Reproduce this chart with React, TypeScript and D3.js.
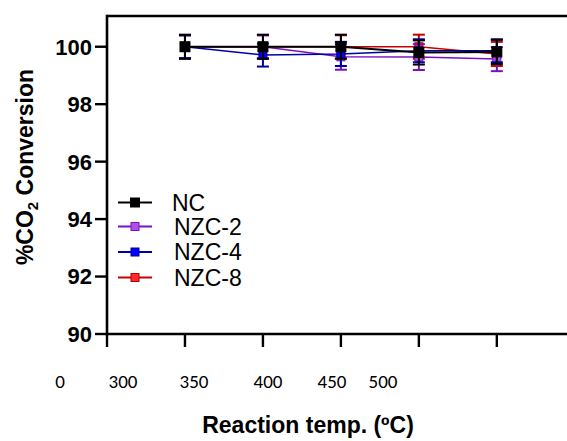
import React from "react";
import * as d3 from "d3";

const temps = [300, 350, 400, 450, 500];
const ncValues = [100, 100, 100, 99.8, 99.82];
const ncErr = [0.42, 0.42, 0.42, 0.42, 0.42];
const nzc2Values = [100, 100, 99.65, 99.64, 99.57];
const nzc2Err = [0.4, 0.4, 0.45, 0.45, 0.42];
const nzc4Values = [100, 99.71, 99.75, 99.86, 99.86];
const nzc4Err = [0.4, 0.4, 0.42, 0.4, 0.4];
const nzc8Values = [100, 100, 100, 100, 99.75];
const nzc8Err = [0.4, 0.4, 0.4, 0.42, 0.42];
const yTicks = [90, 92, 94, 96, 98, 100];
const xTicks = [250, 300, 350, 400, 450, 500];
const xTickLabels = ["0", "300", "350", "400", "450", "500"];
const xLabelOffsets = [60, 123, 194, 268, 332, 383];

const series = [
  { name: "NZC-8", values: nzc8Values, err: nzc8Err, line: "#c80000", fill: "#ff2a2a", stroke: "#b00000", size: 8 },
  { name: "NZC-2", values: nzc2Values, err: nzc2Err, line: "#7a10c0", fill: "#b050e8", stroke: "#7a10c0", size: 8 },
  { name: "NZC-4", values: nzc4Values, err: nzc4Err, line: "#0000a8", fill: "#0000ff", stroke: "#000090", size: 8 },
  { name: "NC", values: ncValues, err: ncErr, line: "#000000", fill: "#000000", stroke: "#000000", size: 10 },
];
const legendOrder = ["NC", "NZC-2", "NZC-4", "NZC-8"];

export default function App() {
  const W = 567, H = 441;
  const x = d3.scaleLinear().domain([250, 545]).range([107, 567]);
  const y = d3.scaleLinear().domain([90, 101.07]).range([334, 16]);
  const line = d3.line<number>().x((_, i) => x(temps[i])).y((v) => y(v));
  const arial = "'Liberation Sans', Arial, sans-serif";
  const legendY = [202.5, 226.5, 252, 277.5];
  return (
    <svg width={W} height={H} style={{ position: "absolute", left: 0, top: 0, background: "#fff" }}>
      {/* frame */}
      <line x1={107} x2={567} y1={16} y2={16} stroke="#000" strokeWidth={2.6} />
      <line x1={107} x2={107} y1={14.7} y2={y(90) + 1.3} stroke="#000" strokeWidth={2.6} />
      <line x1={105.7} x2={567} y1={y(90)} y2={y(90)} stroke="#000" strokeWidth={2.6} />
      {yTicks.map((t) => (
        <g key={t}>
          <line x1={95} x2={107} y1={y(t)} y2={y(t)} stroke="#000" strokeWidth={2.4} />
          <text x={92} y={y(t)} dy="0.36em" textAnchor="end" fontFamily={arial} fontWeight="bold" fontSize={22}>{t}</text>
        </g>
      ))}
      {xTicks.map((t) => (
        <line key={t} x1={x(t)} x2={x(t)} y1={y(90)} y2={y(90) + 13} stroke="#000" strokeWidth={2.4} />
      ))}
      {xTickLabels.map((l, i) => (
        <text key={l} x={xLabelOffsets[i]} y={388} textAnchor="middle" fontFamily="Carlito, Lato, sans-serif" fontSize={19}>{l}</text>
      ))}
      <text x={308} y={433} textAnchor="middle" fontFamily={arial} fontWeight="bold" fontSize={23}>Reaction temp. (ºC)</text>
      <text transform="translate(33,167) rotate(-90)" textAnchor="middle" fontFamily={arial} fontWeight="bold" fontSize={23}>
        %CO<tspan fontSize={15} dy={5}>2</tspan><tspan dy={-5}> Conversion</tspan>
      </text>
      {/* data */}
      {series.map((s) => (
        <g key={s.name}>
          <path d={line(s.values) || ""} fill="none" stroke={s.line} strokeWidth={s.name === "NC" ? 2 : 1.5} />
          {s.values.map((v, i) => (
            <g key={i}>
              <line x1={x(temps[i])} x2={x(temps[i])} y1={y(v - s.err[i])} y2={y(v + s.err[i])} stroke={s.line} strokeWidth={2} />
              <line x1={x(temps[i]) - 6} x2={x(temps[i]) + 6} y1={y(v - s.err[i])} y2={y(v - s.err[i])} stroke={s.line} strokeWidth={2} />
              <line x1={x(temps[i]) - 6} x2={x(temps[i]) + 6} y1={y(v + s.err[i])} y2={y(v + s.err[i])} stroke={s.line} strokeWidth={2} />
              <rect x={x(temps[i]) - s.size / 2} y={y(v) - s.size / 2} width={s.size} height={s.size} fill={s.fill} stroke={s.stroke} strokeWidth={1} />
            </g>
          ))}
        </g>
      ))}
      {/* legend */}
      {legendOrder.map((n, i) => {
        const s = series.find((d) => d.name === n)!;
        const ly = legendY[i];
        const sz = n === "NC" ? 9 : 8;
        return (
          <g key={n}>
            <line x1={118} x2={152} y1={ly} y2={ly} stroke={s.line} strokeWidth={2} />
            <rect x={135 - sz / 2} y={ly - sz / 2} width={sz} height={sz} fill={s.fill} stroke={s.stroke} strokeWidth={1} />
            <text x={n === "NC" ? 172 : 174} y={ly} dy="0.36em" fontFamily={arial} fontSize={23}>{n}</text>
          </g>
        );
      })}
    </svg>
  );
}
